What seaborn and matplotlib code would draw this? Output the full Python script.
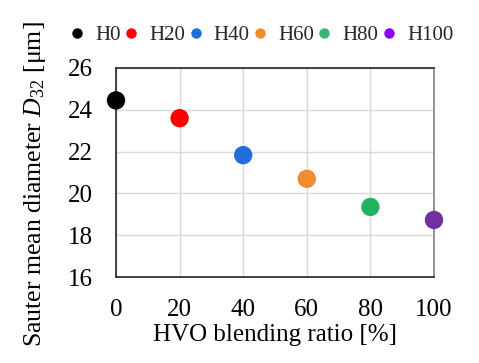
import matplotlib
matplotlib.use("Agg")
import matplotlib.pyplot as plt
from matplotlib.lines import Line2D
import seaborn as sns
import pandas as pd

labels = ["H0", "H20", "H40", "H60", "H80", "H100"]
blend = [0, 20, 40, 60, 80, 100]
d32 = [24.45, 23.6, 21.83, 20.7, 19.35, 18.73]
point_colors = ["#000000", "#FF0000", "#1F6FD8", "#F08B30", "#22B35E", "#7030A0"]
legend_colors = ["#000000", "#FF0000", "#1F6FD8", "#F08B30", "#3CB371", "#8B00FF"]
yticks = [16, 18, 20, 22, 24, 26]
xticks = [0, 20, 40, 60, 80, 100]

sns.set_theme(style="white")
plt.rcParams["font.family"] = ["Liberation Serif", "DejaVu Serif"]
plt.rcParams["mathtext.fontset"] = "custom"
plt.rcParams["mathtext.rm"] = "Liberation Serif"
plt.rcParams["mathtext.it"] = "Liberation Serif:italic"

df = pd.DataFrame({"label": labels, "blend": blend, "d32": d32})

fig = plt.figure(figsize=(4.79, 3.63), dpi=100)
ax = fig.add_axes([116/479, 1-277/363, (434-116)/479, (277-68)/363])

sns.scatterplot(data=df, x="blend", y="d32", hue="label", palette=point_colors,
                s=175, linewidth=0, ax=ax, legend=False, clip_on=False, zorder=5)

ax.set_xlim(0, 100)
ax.set_ylim(16, 26)
ax.set_xticks(xticks)
ax.set_yticks(yticks)
ax.grid(True, color="#D9D9D9", linewidth=1.0)
ax.set_axisbelow(True)
ax.tick_params(axis="both", length=0, labelsize=18, colors="black")
ax.tick_params(axis="y", pad=17)
ax.tick_params(axis="x", pad=16)

for s in ["top", "left", "bottom"]:
    ax.spines[s].set_color("#333333")
    ax.spines[s].set_linewidth(1.3)
ax.spines["right"].set_color("#8C8C8C")
ax.spines["right"].set_linewidth(1.3)

ax.set_xlabel("HVO blending ratio [%]", fontsize=18, color="black", labelpad=2)
ax.set_ylabel("Sauter mean diameter $D_{32}$ [μm]", fontsize=18.5, color="black")
ax.yaxis.set_label_coords(-0.215, 0.445)

handles = [Line2D([0], [0], marker="o", linestyle="", markersize=7.5,
                  markerfacecolor=c, markeredgewidth=0) for c in legend_colors]
fig.legend(handles, labels, loc="center", bbox_to_anchor=(261/479, 1-35/363),
           ncol=6, frameon=False, fontsize=15, handletextpad=0.47,
           columnspacing=0.1, handlelength=0.8, borderpad=0)

fig.savefig("out.png", dpi=100)
